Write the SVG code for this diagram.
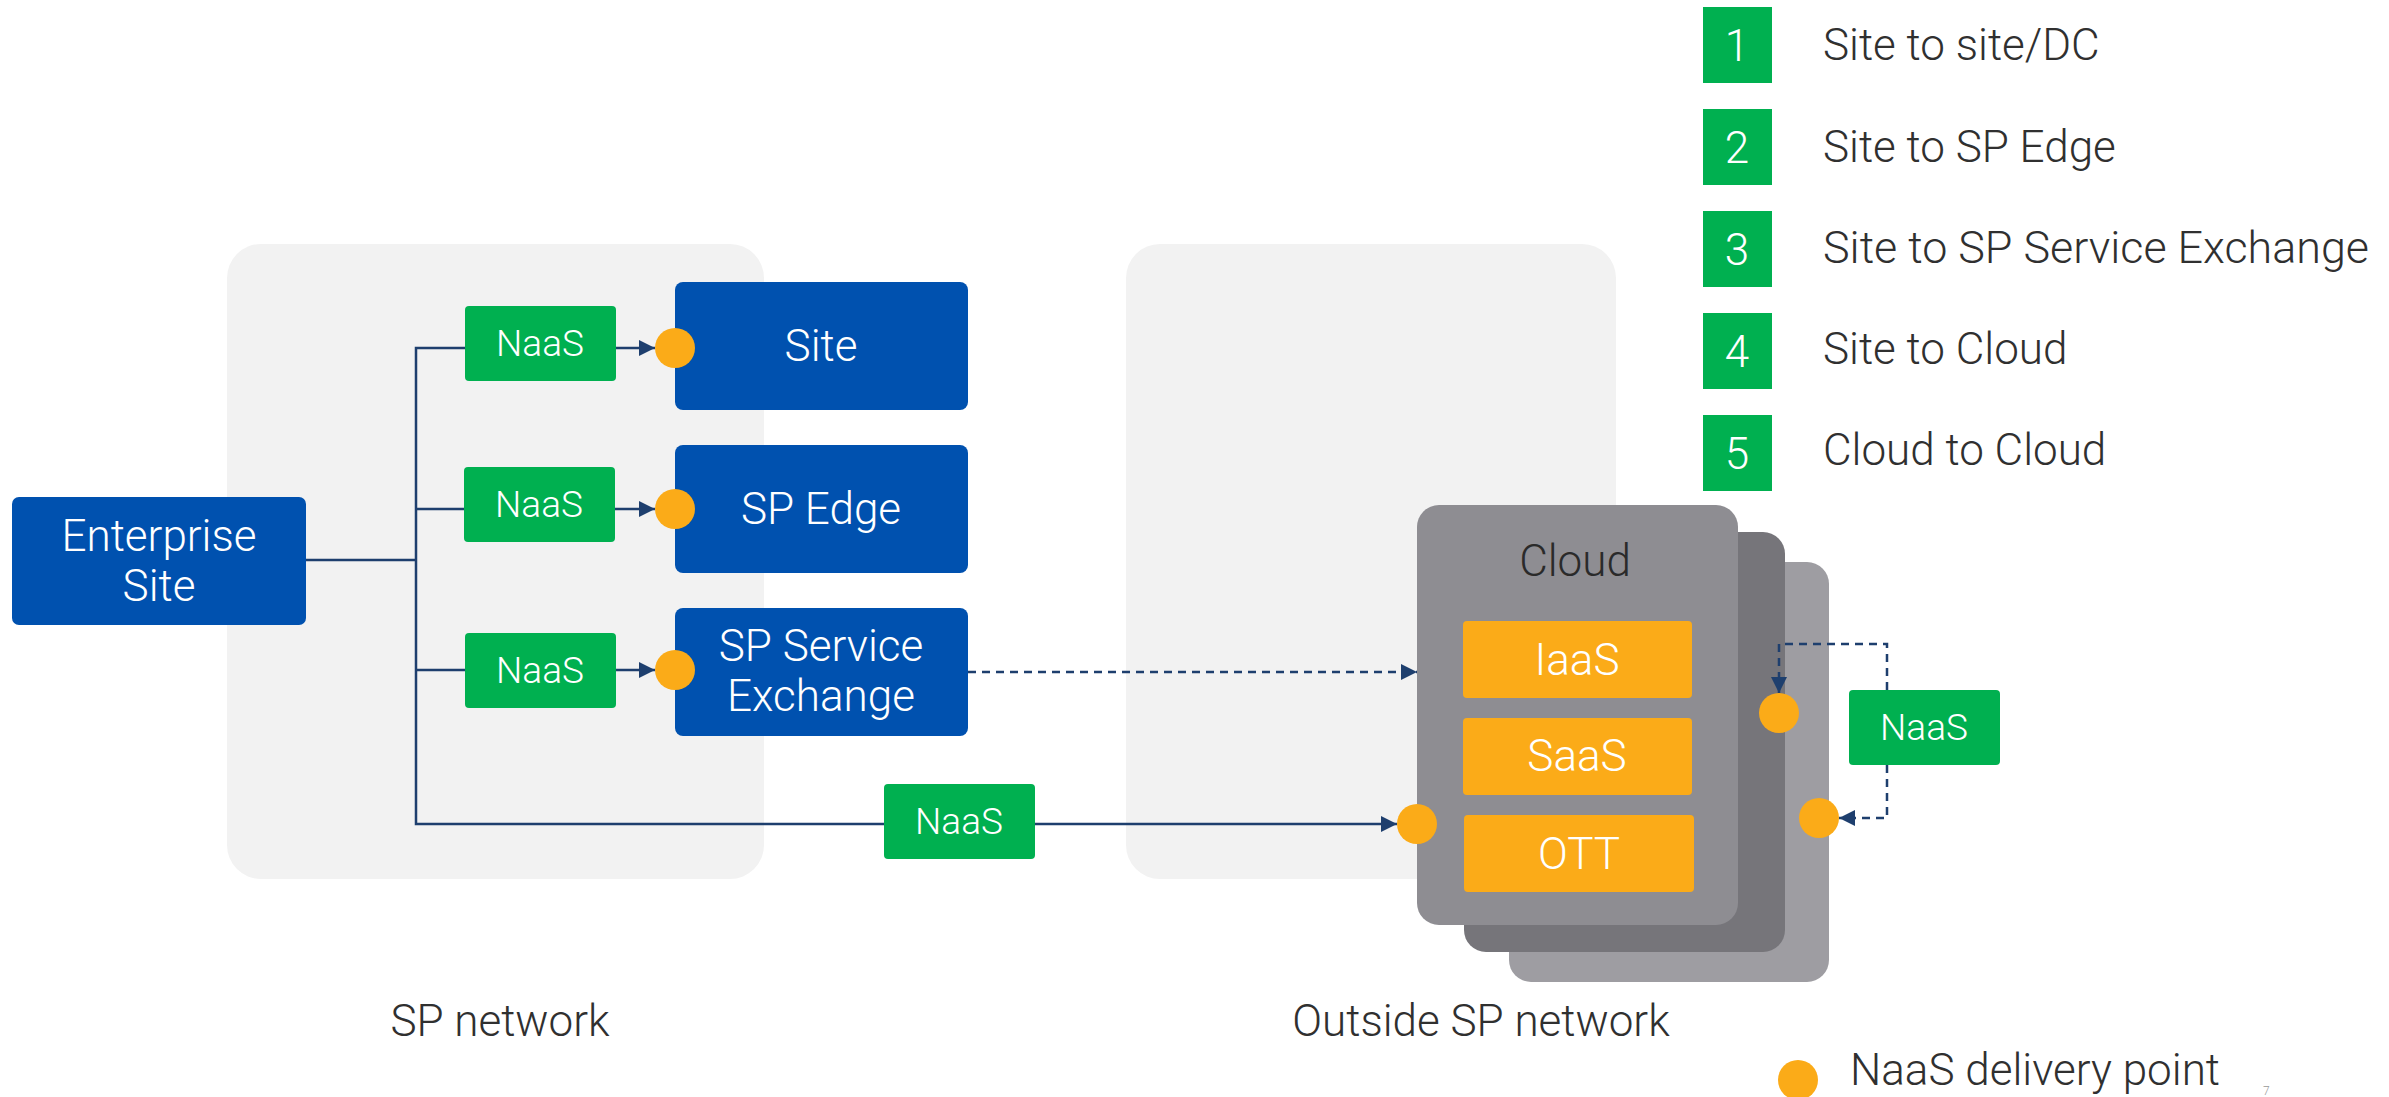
<svg xmlns="http://www.w3.org/2000/svg" width="2389" height="1097" viewBox="0 0 2389 1097">
<defs>
<style>
text{font-family:Roboto,"Liberation Sans",Arial,sans-serif;font-weight:300}
.bg{fill:#F2F2F2}
.blue{fill:#0051AF}
.green{fill:#00B050}
.orange{fill:#FBAB18}
.dot{fill:#FBAB18}
.wt{fill:#FFFFFF;text-anchor:middle}
.big{font-size:44px}
.naas{font-size:37px}
.dk{fill:#303030}
.ln{fill:none;stroke:#1E3F6E;stroke-width:2.5}
.dash{stroke-dasharray:8 6}
</style>
<marker id="ah" markerUnits="userSpaceOnUse" markerWidth="16" markerHeight="16" refX="16" refY="8" orient="auto">
<path d="M0,0 L16,8 L0,16 z" fill="#1E3F6E"/>
</marker>
</defs>
<rect width="2389" height="1097" fill="#FFFFFF"/>

<g id="sp-network-area">
<rect class="bg" x="227" y="244" width="537" height="635" rx="34"/>
<text class="dk big" x="500" y="1036" text-anchor="middle">SP network</text>
</g>
<g id="outside-sp-network-area">
<rect class="bg" x="1126" y="244" width="490" height="635" rx="34"/>
<text class="dk big" x="1481" y="1036" text-anchor="middle">Outside SP network</text>
</g>

<g id="connectors">
<polyline class="ln" points="305,560 416,560"/>
<polyline class="ln" points="465,348 416,348 416,824 884,824"/>
<polyline class="ln" points="416,509 464,509"/>
<polyline class="ln" points="416,670 465,670"/>
<line class="ln" x1="615" y1="348" x2="655" y2="348" marker-end="url(#ah)"/>
<line class="ln" x1="614" y1="509" x2="655" y2="509" marker-end="url(#ah)"/>
<line class="ln" x1="615" y1="670" x2="655" y2="670" marker-end="url(#ah)"/>
<line class="ln dash" x1="968" y1="672" x2="1417" y2="672" marker-end="url(#ah)"/>
<line class="ln" x1="1035" y1="824" x2="1397" y2="824" marker-end="url(#ah)"/>
</g>

<g id="enterprise-site">
<rect class="blue" x="12" y="497" width="294" height="128" rx="7"/>
<text class="wt big" x="159" y="551">Enterprise</text>
<text class="wt big" x="159" y="601">Site</text>
</g>

<g id="naas-1">
<rect class="green" x="465" y="306" width="151" height="75" rx="4"/>
<text class="wt naas" x="540" y="356">NaaS</text>
</g>
<g id="naas-2">
<rect class="green" x="464" y="467" width="151" height="75" rx="4"/>
<text class="wt naas" x="539" y="517">NaaS</text>
</g>
<g id="naas-3">
<rect class="green" x="465" y="633" width="151" height="75" rx="4"/>
<text class="wt naas" x="540" y="683">NaaS</text>
</g>
<g id="naas-4">
<rect class="green" x="884" y="784" width="151" height="75" rx="4"/>
<text class="wt naas" x="959" y="834">NaaS</text>
</g>

<g id="site">
<rect class="blue" x="675" y="282" width="293" height="128" rx="8"/>
<text class="wt big" x="821" y="361">Site</text>
<circle class="dot" cx="675" cy="348" r="20"/>
</g>
<g id="sp-edge">
<rect class="blue" x="675" y="445" width="293" height="128" rx="8"/>
<text class="wt big" x="821" y="524">SP Edge</text>
<circle class="dot" cx="675" cy="509" r="20"/>
</g>
<g id="sp-service-exchange">
<rect class="blue" x="675" y="608" width="293" height="128" rx="8"/>
<text class="wt big" x="821" y="661">SP Service</text>
<text class="wt big" x="821" y="711">Exchange</text>
<circle class="dot" cx="675" cy="670" r="20"/>
</g>

<g id="cloud">
<rect x="1509" y="562" width="320" height="420" rx="22" fill="#9E9DA2"/>
<rect x="1464" y="532" width="321" height="420" rx="22" fill="#76757A"/>
<rect x="1417" y="505" width="321" height="420" rx="22" fill="#8E8D92"/>
<text class="big" x="1575" y="576" fill="#2A2A2A" text-anchor="middle">Cloud</text>
<rect class="orange" x="1463" y="621" width="229" height="77" rx="4"/>
<text class="wt big" x="1577" y="675">IaaS</text>
<rect class="orange" x="1463" y="718" width="229" height="77" rx="4"/>
<text class="wt big" x="1577" y="771">SaaS</text>
<rect class="orange" x="1464" y="815" width="230" height="77" rx="4"/>
<text class="wt big" x="1579" y="869">OTT</text>
<circle class="dot" cx="1417" cy="824" r="20"/>
<circle class="dot" cx="1779" cy="713" r="20"/>
<circle class="dot" cx="1819" cy="818" r="20"/>
</g>

<g id="connectors-cloud">
<polyline class="ln dash" points="1887,690 1887,644 1779,644 1779,693" marker-end="url(#ah)"/>
<polyline class="ln dash" points="1887,765 1887,818 1839,818" marker-end="url(#ah)"/>
</g>

<g id="naas-5">
<rect class="green" x="1849" y="690" width="151" height="75" rx="4"/>
<text class="wt naas" x="1924" y="740">NaaS</text>
</g>

<g id="legend">
<rect class="green" x="1703" y="7" width="69" height="76"/>
<text class="wt big" x="1737" y="61">1</text>
<text class="dk big" x="1823" y="60">Site to site/DC</text>
<rect class="green" x="1703" y="109" width="69" height="76"/>
<text class="wt big" x="1737" y="163">2</text>
<text class="dk big" x="1823" y="162">Site to SP Edge</text>
<rect class="green" x="1703" y="211" width="69" height="76"/>
<text class="wt big" x="1737" y="265">3</text>
<text class="dk big" x="1823" y="263" textLength="546" lengthAdjust="spacingAndGlyphs">Site to SP Service Exchange</text>
<rect class="green" x="1703" y="313" width="69" height="76"/>
<text class="wt big" x="1737" y="367">4</text>
<text class="dk big" x="1823" y="364">Site to Cloud</text>
<rect class="green" x="1703" y="415" width="69" height="76"/>
<text class="wt big" x="1737" y="469">5</text>
<text class="dk big" x="1823" y="465">Cloud to Cloud</text>
<circle class="dot" cx="1798" cy="1080" r="20"/>
<text class="dk big" x="1850" y="1085">NaaS delivery point</text>
<text x="2263" y="1095" font-size="12" fill="#999999">7</text>
</g>
</svg>
